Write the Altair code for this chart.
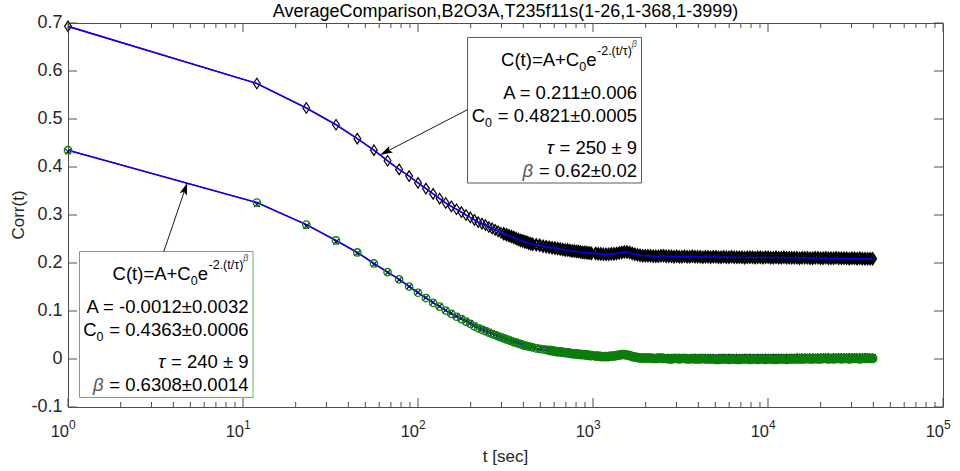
import altair as alt
import pandas as pd

# ---------------- data ----------------
T = [1, 12, 23, 34, 45, 56, 67, 78, 89, 100, 111, 122, 133, 144, 155, 166, 177, 188, 199, 210, 221,
     232, 243, 254, 265, 276, 287, 298, 309, 320, 331, 342, 353, 364, 375, 386, 397, 408, 419, 430, 441,
     452, 474, 496, 518, 540, 562, 584, 606, 628, 650, 672, 694, 716, 738, 760, 782, 804, 826, 848,
     870, 892, 914, 936, 958, 980,
     1035, 1071, 1109, 1148, 1188, 1229, 1272, 1317, 1363, 1411,
     1460, 1511, 1564, 1619, 1675, 1734, 1795, 1857, 1923, 1990,
     2059, 2132, 2206, 2283, 2363, 2446, 2532, 2620, 2712, 2807,
     2905, 3007, 3112, 3221, 3334, 3450, 3571, 3696, 3825, 3959,
     4098, 4241, 4390, 4543, 4702, 4867, 5037, 5214, 5396, 5585,
     5780, 5983, 6192, 6409, 6633, 6865, 7106, 7354, 7612, 7878,
     8154, 8439, 8735, 9040, 9357, 9684, 10023, 10374, 10737, 11113,
     11502, 11905, 12321, 12753, 13199, 13661, 14139, 14634, 15146, 15676,
     16225, 16793, 17381, 17989, 18619, 19270, 19945, 20643, 21365, 22113,
     22887, 23688, 24517, 25375, 26263, 27183, 28134, 29119, 30138, 31193,
     32285, 33415, 34584, 35794, 37047, 38344, 39601]

UPPER = [0.693, 0.574, 0.523, 0.488, 0.459, 0.435, 0.413, 0.395, 0.381, 0.367, 0.355, 0.344, 0.334,
         0.325, 0.318, 0.312, 0.306, 0.300, 0.295, 0.290, 0.285,
         0.282, 0.279, 0.275, 0.272, 0.269, 0.266, 0.263, 0.261, 0.259, 0.257,
         0.255, 0.253, 0.251, 0.249, 0.247, 0.246, 0.244, 0.243, 0.241, 0.240,
         0.239, 0.238, 0.237, 0.235, 0.234, 0.233, 0.232, 0.231, 0.230, 0.229, 0.228, 0.227, 0.227,
         0.226, 0.225, 0.225, 0.224, 0.224, 0.223, 0.222, 0.222, 0.222, 0.221, 0.221, 0.220,
         0.220, 0.219, 0.219, 0.218, 0.218, 0.218, 0.219, 0.219, 0.220, 0.221,
         0.222, 0.223, 0.223, 0.222, 0.220, 0.218, 0.217, 0.216, 0.215, 0.215,
         0.215, 0.215, 0.214, 0.214, 0.214, 0.215, 0.215, 0.214, 0.214, 0.214,
         0.213, 0.214, 0.213, 0.213, 0.214, 0.213, 0.213, 0.214, 0.213, 0.213,
         0.213, 0.212, 0.213, 0.213, 0.212, 0.213, 0.213, 0.212, 0.212, 0.213,
         0.212, 0.212, 0.213, 0.212, 0.212, 0.212, 0.212, 0.211, 0.212, 0.212,
         0.212, 0.211, 0.212, 0.212, 0.211, 0.212, 0.212, 0.211, 0.211, 0.212,
         0.211, 0.211, 0.212, 0.211, 0.211, 0.211, 0.211, 0.211, 0.210, 0.211,
         0.211, 0.211, 0.210, 0.210, 0.211, 0.211, 0.210, 0.210, 0.211, 0.210,
         0.210, 0.210, 0.211, 0.210, 0.210, 0.210, 0.210, 0.209, 0.210, 0.210,
         0.209, 0.210, 0.209, 0.209, 0.209, 0.209, 0.209]

LOWER_O = [0.435, 0.326, 0.280, 0.247, 0.222, 0.199, 0.181, 0.166, 0.151, 0.138, 0.127, 0.117, 0.109,
           0.101, 0.094, 0.088, 0.083, 0.078, 0.073, 0.068, 0.064,
           0.061, 0.058, 0.055, 0.052, 0.050, 0.047, 0.045, 0.043, 0.041, 0.039,
           0.037, 0.035, 0.034, 0.032, 0.031, 0.029, 0.028, 0.027, 0.026, 0.025,
           0.024, 0.022, 0.021, 0.020, 0.019, 0.018, 0.017, 0.016, 0.015, 0.015, 0.014, 0.013, 0.013,
           0.012, 0.011, 0.011, 0.010, 0.010, 0.009, 0.009, 0.009, 0.008, 0.008, 0.007, 0.007,
           0.006, 0.006, 0.005, 0.005, 0.005, 0.005, 0.006, 0.006, 0.007, 0.008,
           0.009, 0.009, 0.008, 0.007, 0.005, 0.004, 0.003, 0.002, 0.002, 0.002,
           0.002, 0.002, 0.001, 0.001, 0.002, 0.002, 0.001, 0.001, 0.000, 0.000,
           0.001, 0.001, 0.000, 0.001, 0.001, 0.000, 0.000, 0.001, 0.000, 0.000,
           0.000, 0.001, 0.000, 0.000, 0.000, 0.000, -0.001, -0.001, 0.000, 0.000,
           0.000, -0.001, 0.000, 0.000, -0.001, -0.001, 0.000, 0.000, 0.000, -0.001,
           0.000, 0.000, -0.001, 0.000, 0.000, -0.001, 0.000, 0.000, -0.001, -0.001,
           0.000, 0.000, 0.000, -0.001, 0.000, 0.000, 0.000, 0.000, 0.000, 0.000,
           0.000, 0.001, 0.000, 0.000, 0.001, 0.000, 0.000, 0.001, 0.001, 0.000,
           0.001, 0.000, 0.001, 0.001, 0.000, 0.001, 0.001, 0.000, 0.001, 0.001,
           0.001, 0.000, 0.001, 0.001, 0.001, 0.001, 0.001]

LOWER_X = [0.432, 0.322, 0.277, 0.244, 0.220, 0.197, 0.180, 0.165, 0.151, 0.139, 0.128, 0.118, 0.110,
           0.102, 0.096, 0.090, 0.085, 0.080, 0.075, 0.070, 0.066,
           0.063, 0.060, 0.057, 0.054, 0.052, 0.049, 0.047, 0.045, 0.043, 0.041,
           0.039, 0.037, 0.036, 0.034, 0.033, 0.031, 0.030, 0.029, 0.028, 0.027,
           0.026, 0.024, 0.023, 0.022, 0.021, 0.020, 0.019, 0.018, 0.017, 0.017, 0.016, 0.015, 0.015,
           0.014, 0.013, 0.013, 0.012, 0.012, 0.011, 0.011, 0.011, 0.010, 0.010, 0.009, 0.009,
           0.008, 0.008, 0.007, 0.007, 0.007, 0.007, 0.008, 0.008, 0.009, 0.010,
           0.011, 0.011, 0.010, 0.009, 0.007, 0.006, 0.005, 0.004, 0.004, 0.004,
           0.004, 0.004, 0.003, 0.004, 0.004, 0.004, 0.003, 0.004, 0.003, 0.003,
           0.004, 0.004, 0.003, 0.004, 0.004, 0.003, 0.003, 0.004, 0.003, 0.004,
           0.004, 0.004, 0.003, 0.004, 0.004, 0.003, 0.003, 0.003, 0.004, 0.004,
           0.004, 0.003, 0.004, 0.004, 0.003, 0.003, 0.004, 0.004, 0.004, 0.003,
           0.004, 0.004, 0.003, 0.004, 0.004, 0.003, 0.004, 0.004, 0.003, 0.004,
           0.004, 0.004, 0.004, 0.003, 0.004, 0.004, 0.004, 0.004, 0.005, 0.004,
           0.004, 0.005, 0.004, 0.004, 0.005, 0.004, 0.004, 0.005, 0.005, 0.004,
           0.005, 0.004, 0.005, 0.005, 0.004, 0.005, 0.005, 0.004, 0.005, 0.005,
           0.005, 0.004, 0.005, 0.005, 0.005, 0.005, 0.004]

Y_TICKS = [-0.1, 0.0, 0.1, 0.2, 0.3, 0.4, 0.5, 0.6, 0.7]
Y_LABELS = ["-0.1", "0", "0.1", "0.2", "0.3", "0.4", "0.5", "0.6", "0.7"]
X_MAJOR = [1, 10, 100, 1000, 10000, 100000]
X_EXP = ["0", "1", "2", "3", "4", "5"]
X_MINOR = [m * 10 ** k for k in range(5) for m in range(2, 10)]

TITLE = "AverageComparison,B2O3A,T235f11s(1-26,1-368,1-3999)"
X_TITLE = "t [sec]"
Y_TITLE = "Corr(t)"

FORMULA = ["C(t)=A+C", "0", "e", "-2.(t/\u03c4)", "\u03b2"]
BOX_UP = ["A = 0.211\u00b10.006", " = 0.4821\u00b10.0005", " = 250 \u00b1 9", " = 0.62\u00b10.02"]
BOX_LO = ["A = -0.0012\u00b10.0032", " = 0.4363\u00b10.0006", " = 240 \u00b1 9", " = 0.6308\u00b10.0014"]

# ---------------- layout ----------------
W, H = 875, 384
PAD = {"left": 68, "top": 23, "right": 17, "bottom": 64}
FONT = "Liberation Sans"
AX = "#4d4d4d"
TXT = "#262626"
DENSE_UP = 300   # where the real sampling is so dense that markers merge into a band
DENSE_LO = 560

xs = alt.Scale(type="log", domain=[1, 100000], nice=False)
ys = alt.Scale(domain=[-0.1, 0.7], nice=False, zero=False)

one = pd.DataFrame({"a": [0]})

df_u = pd.DataFrame({"t": T, "v": UPPER})
df_o = pd.DataFrame({"t": T, "v": LOWER_O})
df_x = pd.DataFrame({"t": T, "v": LOWER_X})

X = alt.X("t:Q", scale=xs, axis=None)
Yn = alt.Y("v:Q", scale=ys, axis=None)

def split(df, t0):
    return df[df.t < t0], df[df.t >= t0]

u_a, u_b = split(df_u, DENSE_UP)
o_a, o_b = split(df_o, DENSE_LO)
x_a, x_b = split(df_x, DENSE_LO)

DIAMOND = "M0,-1L0.65,0L0,1L-0.65,0Z"
XSHAPE = "M-1,-1L1,1M-1,1L1,-1"

layers = []
# red lines (under)
layers.append(alt.Chart(df_u).mark_line(color="#ff0000", strokeWidth=1.2).encode(x=X, y=Yn))
layers.append(alt.Chart(df_o).mark_line(color="#ff0000", strokeWidth=1.2).encode(x=X, y=Yn))
# black crosses
layers.append(alt.Chart(x_a).mark_point(shape=XSHAPE, size=30, filled=False,
                                        color="black", strokeWidth=1.1, opacity=1).encode(x=X, y=Yn))
layers.append(alt.Chart(x_b).mark_point(shape=XSHAPE, size=34, filled=False,
                                        color="black", strokeWidth=1.8, opacity=1).encode(x=X, y=Yn))
# blue lower line
layers.append(alt.Chart(df_o).mark_line(color="#0000ff", strokeWidth=1.6).encode(x=X, y=Yn))
# green circles
layers.append(alt.Chart(o_a).mark_point(shape="circle", size=55, filled=False,
                                        color="#0a850a", strokeWidth=1.3, opacity=1).encode(x=X, y=Yn))
layers.append(alt.Chart(o_b).mark_point(shape="circle", size=50, filled=False,
                                        color="#0b7d0b", strokeWidth=2.6, opacity=1).encode(x=X, y=Yn))
# diamonds
layers.append(alt.Chart(u_a).mark_point(shape=DIAMOND, size=110, filled=False,
                                        color="black", strokeWidth=1.2, opacity=1).encode(x=X, y=Yn))
layers.append(alt.Chart(u_b).mark_point(shape=DIAMOND, size=110, filled=False,
                                        color="black", strokeWidth=2.2, opacity=1).encode(x=X, y=Yn))
# blue upper line
layers.append(alt.Chart(df_u).mark_line(color="#0000ff", strokeWidth=1.6).encode(x=X, y=Yn))

# ---------------- ticks (inward) ----------------
df_yt = pd.DataFrame({"v": Y_TICKS, "lab": Y_LABELS})
df_xM = pd.DataFrame({"t": X_MAJOR})
df_xm = pd.DataFrame({"t": X_MINOR})
layers.append(alt.Chart(df_yt).mark_rule(color=AX, strokeWidth=1).encode(y=Yn, x=alt.value(0), x2=alt.value(9)))
layers.append(alt.Chart(df_yt).mark_rule(color=AX, strokeWidth=1).encode(y=Yn, x=alt.value(W - 9), x2=alt.value(W)))
layers.append(alt.Chart(df_xM).mark_rule(color=AX, strokeWidth=1).encode(x=X, y=alt.value(H - 9), y2=alt.value(H)))
layers.append(alt.Chart(df_xM).mark_rule(color=AX, strokeWidth=1).encode(x=X, y=alt.value(0), y2=alt.value(9)))
layers.append(alt.Chart(df_xm).mark_rule(color=AX, strokeWidth=1).encode(x=X, y=alt.value(H - 5), y2=alt.value(H)))
layers.append(alt.Chart(df_xm).mark_rule(color=AX, strokeWidth=1).encode(x=X, y=alt.value(0), y2=alt.value(5)))

# y tick labels
layers.append(alt.Chart(df_yt).mark_text(align="right", baseline="middle", fontSize=18, dx=-5.5,
                                         color=TXT).encode(y=Yn, x=alt.value(0), text="lab:N"))
# x tick labels 10^k
df_lab = pd.DataFrame({"t": X_MAJOR, "base": ["10"] * len(X_MAJOR), "exp": X_EXP})
layers.append(alt.Chart(df_lab).mark_text(align="right", baseline="alphabetic", fontSize=16.5, dx=1,
                                          color=TXT).encode(x=X, y=alt.value(H + 30), text="base:N"))
layers.append(alt.Chart(df_lab).mark_text(align="left", baseline="alphabetic", fontSize=12, dx=1,
                                          color=TXT).encode(x=X, y=alt.value(H + 22), text="exp:N"))

# titles
def txt(s, x, y, fs, align="center", baseline="middle", color=TXT, style="normal", angle=None):
    kw = dict(text=s, fontSize=fs, align=align, baseline=baseline, color=color, fontStyle=style)
    if angle is not None:
        kw["angle"] = angle
    return alt.Chart(one).mark_text(**kw).encode(x=alt.value(x), y=alt.value(y))

layers.append(txt(TITLE, W / 2, -11.5, 18, color="black"))
layers.append(txt(X_TITLE, W / 2, 434, 17))
layers.append(txt(Y_TITLE, -49, 192, 17, angle=270))

# ---------------- annotation boxes ----------------
CW = {"0": .556, "1": .556, "2": .556, "3": .556, "4": .556, "5": .556, "6": .556, "7": .556,
      "8": .556, "9": .556, ".": .278, " ": .278, "=": .584, "\u00b1": .584, "C": .722, "A": .667,
      "(": .333, ")": .333, "t": .278, "+": .584, "e": .556, "-": .333, "/": .278,
      "\u03c4": .44, "\u03b2": .575}

def tw(s, fs):
    return fs * sum(CW.get(c, .556) for c in s)

FS, FSUB, FSS = 18.5, 12.5, 9

def box(x0, x1, top, bottom, stroke, lines):
    out = [alt.Chart(one).mark_rect(fill="white", stroke=stroke, strokeWidth=1).encode(
        x=alt.value(x0), x2=alt.value(x1), y=alt.value(top), y2=alt.value(bottom))]
    R = x1 - 4.5
    B = top + 28.7
    r = R
    out.append(txt(FORMULA[4], r, B - 19, FSS, align="right", baseline="alphabetic", color="#555555", style="italic"))
    r -= tw(FORMULA[4], FSS)
    out.append(txt(FORMULA[3], r, B - 11, FSUB, align="right", baseline="alphabetic", color="black"))
    r -= tw(FORMULA[3], FSUB)
    out.append(txt(FORMULA[2], r, B, FS, align="right", baseline="alphabetic", color="black"))
    r -= tw(FORMULA[2], FS)
    out.append(txt(FORMULA[1], r, B + 4.5, FSUB, align="right", baseline="alphabetic", color="black"))
    r -= tw(FORMULA[1], FSUB)
    out.append(txt(FORMULA[0], r, B, FS, align="right", baseline="alphabetic", color="black"))
    out.append(txt(lines[0], R, top + 54.8 + 6.6, FS, align="right", baseline="alphabetic", color="black"))
    Bc = top + 78.3 + 6.6
    out.append(txt(lines[1], R, Bc, FS, align="right", baseline="alphabetic", color="black"))
    r = R - tw(lines[1], FS)
    out.append(txt("0", r, Bc + 5, FSUB, align="right", baseline="alphabetic", color="black"))
    r -= tw("0", FSUB)
    out.append(txt("C", r, Bc, FS, align="right", baseline="alphabetic", color="black"))
    Bt = top + 110.2 + 6.6
    out.append(txt(lines[2], R, Bt, FS, align="right", baseline="alphabetic", color="black"))
    out.append(txt("\u03c4", R - tw(lines[2], FS), Bt, FS, align="right", baseline="alphabetic",
                   color="black", style="italic"))
    Bb = top + 133.3 + 6.6
    out.append(txt(lines[3], R, Bb, FS, align="right", baseline="alphabetic", color="black"))
    out.append(txt("\u03b2", R - tw(lines[3], FS), Bb, FS, align="right", baseline="alphabetic",
                   color="#555555", style="italic"))
    return out

layers += box(399.5, 573.5, 14.5, 160, "#5a5a5a", BOX_UP)
layers += box(11.5, 185, 228.5, 374.5, "#5cb85c", BOX_LO)

# arrows
ARROW = "M0,0L0.32,1L0,0.8L-0.32,1Z"
def arrow(x0, y0, x1, y1, ang):
    return [
        alt.Chart(one).mark_rule(color="black", strokeWidth=0.9).encode(
            x=alt.value(x0), y=alt.value(y0), x2=alt.value(x1), y2=alt.value(y1)),
        alt.Chart(one).mark_point(shape=ARROW, size=576, filled=True, color="black", opacity=1,
                                  angle=ang).encode(x=alt.value(x1), y=alt.value(y1)),
    ]

layers += arrow(399.5, 86.7, 312.5, 131.7, 242.6)
layers += arrow(95.8, 228.5, 119.2, 160, 18.9)

chart = alt.layer(*layers).properties(
    width=W, height=H, padding=PAD, autosize=alt.AutoSizeParams(type="none")
).configure(font=FONT, background="white").configure_view(stroke=AX, strokeWidth=1)

chart.save("out.html", embed_options={"renderer": "svg", "actions": False})
